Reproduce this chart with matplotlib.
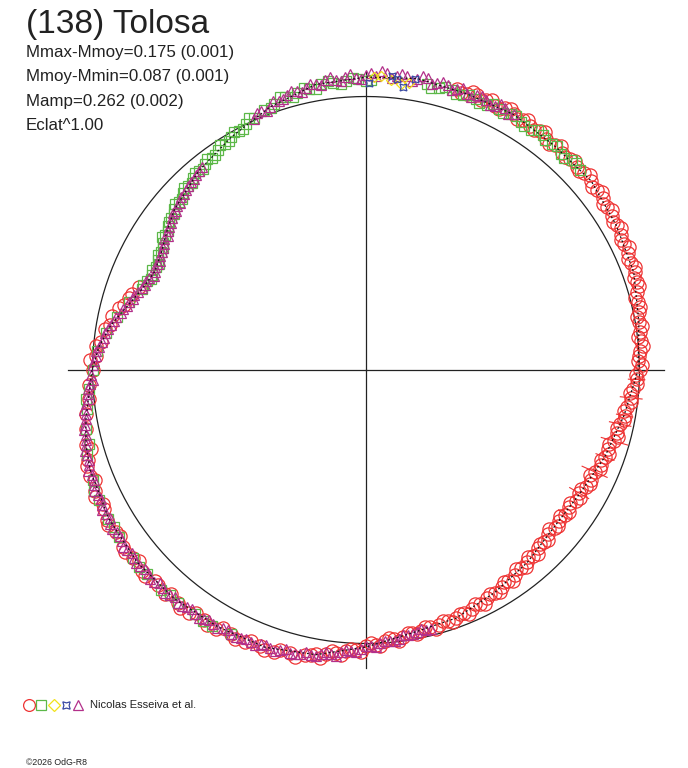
import numpy as np
import matplotlib.pyplot as plt
from matplotlib.lines import Line2D

plt.rcParams['font.family'] = ['Liberation Sans', 'DejaVu Sans']

# --- courbe ajustee (angle en degres, rayon relatif au cercle de reference) ---
fit_ang = [-180, -170, -165, -160, -150, -140, -130, -120, -110, -100, -90, -80, -70, -60,
           -50, -40, -30, -20, -10, 0, 10, 20, 30, 40, 50, 60, 70, 80, 90, 100, 110,
           120, 130, 140, 145, 150, 155, 160, 165, 170, 175, 180]
fit_r = [1.002, 1.040, 1.060, 1.073, 1.086, 1.093, 1.091, 1.084, 1.079, 1.057, 1.013, 0.976,
         0.965, 0.940, 0.918, 0.896, 0.903, 0.929, 0.958, 0.995, 1.013, 1.042, 1.057, 1.075,
         1.071, 1.079, 1.075, 1.082, 1.071, 1.060, 1.024, 0.984, 0.951, 0.914, 0.888, 0.863,
         0.852, 0.870, 0.903, 0.947, 0.980, 1.002]

# --- observations ---
red_ang = [160, 163, 166, 168, 171, 174, 177, 180, -177, -174, -171, -168, -165, -162, -159,
           -156, -153, -150, -147, -144, -141, -138, -135, -132, -129, -126, -123, -120, -117,
           -114, -111, -108, -105, -102,
           -100, -98, -96, -94, -92, -90, -88, -86, -84, -82, -80, -78, -76, -74, -72, -70,
           -68, -66, -64, -62, -60, -58, -56, -54, -52, -50, -48, -46, -44, -42, -40, -38,
           -36, -34, -32, -30, -28, -26, -24, -22, -20, -18, -16, -14, -12, -10, -8, -6, -4,
           -2, 0, 2, 4, 6, 8, 10, 12, 14, 16, 18, 20, 22, 24, 26, 28, 30, 32, 34, 36, 38, 40,
           42, 44, 46, 48, 50, 52, 54, 56, 58, 60, 62, 64, 66, 68, 70, 72]
red_r = [0.885, 0.905, 0.93, 0.95, 0.965, 0.975, 0.99, 1.0, 1.015, 1.02, 1.035, 1.045, 1.06,
         1.07, 1.08, 1.085, 1.08, 1.095, 1.09, 1.1, 1.095, 1.1, 1.09, 1.1, 1.095, 1.1, 1.09,
         1.095, 1.085, 1.09, 1.08, 1.085, 1.07, 1.065,
         1.055, 1.05, 1.04, 1.03, 1.025, 1.01, 1.005, 0.995, 0.99, 0.985, 0.975, 0.975, 0.97,
         0.97, 0.965, 0.965, 0.96, 0.955, 0.95, 0.945, 0.94, 0.935, 0.93, 0.925, 0.92, 0.915,
         0.915, 0.905, 0.905, 0.895, 0.9, 0.895, 0.9, 0.895, 0.905, 0.9, 0.91, 0.915, 0.915,
         0.925, 0.93, 0.93, 0.945, 0.945, 0.95, 0.96, 0.965, 0.975, 0.98, 0.99, 1.0, 0.995,
         1.005, 1.01, 1.01, 1.015, 1.02, 1.025, 1.03, 1.04, 1.045, 1.045, 1.05, 1.05, 1.055,
         1.06, 1.06, 1.065, 1.07, 1.07, 1.075, 1.075, 1.07, 1.075, 1.07, 1.075, 1.07, 1.08,
         1.075, 1.08, 1.08, 1.085, 1.075, 1.08, 1.085, 1.075, 1.08]
red_ang2 = [162, 165, 170, 175, 178, -164, -161, -158, -155, -152, -149, -146, -143, -140,
            -137, -134, -131, -128, -125, -122, -119, -116, -113, -110, -107, -104, -101,
            -99, -97, -95, -93, -91, -89, -87, -85, -83, -81, -79, -77, -75, -73, -71, -69,
            -67, -65, -63, -61, -59, -57, -55, -53, -51, -49, -47, -45, -43, -41, -39, -37,
            -35, -33, -31, -29, -27, -25, -23, -21, -19, -17, -15, -13, -11, -9, -7, -5, -3,
            -1, 1, 3, 5, 7, 9, 11, 13, 15, 17, 19, 21, 23, 25, 27, 29, 31, 33, 35, 37, 39,
            41, 43, 45, 47, 49, 51, 53, 55, 57, 59, 61, 63, 65, 67, 69, 71]
red_r2 = [0.9, 0.915, 0.95, 0.99, 1.01, 1.045, 1.08, 1.07, 1.095, 1.085, 1.1, 1.085, 1.105,
          1.085, 1.105, 1.095, 1.085, 1.105, 1.085, 1.1, 1.08, 1.095, 1.075, 1.09, 1.07,
          1.08, 1.06,
          1.065, 1.035, 1.045, 1.02, 1.03, 0.998, 1.012, 0.985, 0.998, 0.972, 0.985, 0.965,
          0.982, 0.96, 0.975, 0.955, 0.968, 0.945, 0.96, 0.935, 0.948, 0.925, 0.94, 0.912,
          0.928, 0.905, 0.922, 0.898, 0.912, 0.888, 0.905, 0.89, 0.908, 0.89, 0.912, 0.898,
          0.92, 0.905, 0.93, 0.92, 0.94, 0.928, 0.952, 0.94, 0.962, 0.955, 0.975, 0.968,
          0.992, 0.988, 1.008, 0.998, 1.015, 1.002, 1.022, 1.01, 1.03, 1.02, 1.045, 1.035,
          1.055, 1.04, 1.06, 1.045, 1.068, 1.052, 1.072, 1.06, 1.08, 1.065, 1.085, 1.065,
          1.082, 1.065, 1.085, 1.065, 1.088, 1.07, 1.088, 1.072, 1.09, 1.07, 1.088, 1.072,
          1.09, 1.07]

# barres d'erreur (quelques points rouges)
err_ang = [-36, -30, -24, -20, -16, -12, -10, -6, -2]
err_r = [0.9, 0.9, 0.915, 0.93, 0.945, 0.95, 0.96, 0.975, 0.99]
err_size = [0.03, 0.04, 0.05, 0.035, 0.05, 0.04, 0.03, 0.04, 0.03]

green_ang = [43, 45.5, 48, 50.5, 53, 55.5, 58, 60.5, 63, 65.5, 68, 70.5, 73, 75.5, 78, 89,
             91.5, 94, 96.5, 99, 101.5, 104, 106.5, 109, 111.5,
             114, 116, 118, 120, 122, 124, 126, 128, 130, 132, 134, 136, 138, 140, 142, 144,
             146, 148, 150, 152, 154, 156, 158, 160, 164, 168, 172, 176, 180,
             -176, -172, -168, -163, -158, -154, -150, -146, -141, -137, -133, -129, -125,
             -121, -117]
green_r = [1.07, 1.075, 1.065, 1.07, 1.075, 1.065, 1.07, 1.075, 1.07, 1.065, 1.07, 1.065,
           1.07, 1.065, 1.07, 1.06, 1.065, 1.06, 1.055, 1.06, 1.05, 1.045, 1.04, 1.03, 1.02,
           1.01, 1.0, 0.99, 0.985, 0.975, 0.97, 0.96, 0.955, 0.95, 0.945, 0.935, 0.93, 0.92,
           0.915, 0.905, 0.895, 0.885, 0.875, 0.865, 0.86, 0.855, 0.855, 0.865, 0.87, 0.9,
           0.93, 0.96, 0.985, 1.0,
           1.015, 1.03, 1.045, 1.065, 1.075, 1.085, 1.09, 1.09, 1.095, 1.095, 1.1, 1.095,
           1.09, 1.09, 1.085]
green_ang2 = [44.5, 47, 49.5, 52, 54.5, 57, 59.5, 62, 64.5, 67, 69.5, 72, 74.5, 77, 90, 92.5,
              95, 97.5, 100, 102.5, 105, 107.5, 110,
              115, 117, 119, 121, 123, 125, 127, 129, 131, 133, 135, 137, 139, 141, 143, 145,
              147, 149, 151, 153, 155, 157, 159,
              -174, -165, -156, -148, -139, -131, -123]
green_r2 = [1.078, 1.062, 1.078, 1.065, 1.08, 1.062, 1.078, 1.065, 1.078, 1.06, 1.075, 1.06,
            1.075, 1.06, 1.055, 1.07, 1.05, 1.065, 1.045, 1.055, 1.035, 1.045, 1.02,
            1.015, 0.99, 0.995, 0.975, 0.98, 0.96, 0.965, 0.948, 0.955, 0.935, 0.94, 0.918,
            0.925, 0.905, 0.9, 0.885, 0.89, 0.868, 0.87, 0.85, 0.862, 0.855, 0.872,
            1.03, 1.05, 1.09, 1.085, 1.1, 1.09, 1.095]

purple_ang = [60, 62, 64, 66, 68, 70, 72, 74, 76, 78, 80, 82, 84, 86, 88, 90, 92, 94, 96,
              98, 100, 102, 104, 106, 108, 110, 112, 114,
              129, 131, 133, 135, 137, 139, 141, 143, 145, 147, 149, 151, 153, 155, 157, 159,
              161, 163, 165, 167, 169, 171, 173, 175, 177, 179,
              -179, -177, -175, -173, -171, -169, -167, -165, -163, -161, -159, -157, -155,
              -153, -151, -149, -147, -145, -143, -141, -139, -137, -135, -133, -131, -129,
              -127, -125, -123, -121, -119, -117, -115, -113, -111, -109, -107, -105, -103,
              -101, -99, -97, -95, -93, -91, -89, -87, -85, -83, -81, -79, -77]
purple_r = [1.08, 1.085, 1.075, 1.08, 1.085, 1.075, 1.08, 1.085, 1.08, 1.09, 1.08, 1.085,
            1.08, 1.09, 1.075, 1.08, 1.07, 1.075, 1.065, 1.07, 1.06, 1.055, 1.05, 1.045,
            1.035, 1.025, 1.02, 1.005,
            0.955, 0.945, 0.94, 0.93, 0.925, 0.915, 0.91, 0.895, 0.885, 0.88, 0.865, 0.86,
            0.855, 0.85, 0.86, 0.865, 0.88, 0.89, 0.905, 0.92, 0.94, 0.955, 0.965, 0.98,
            0.99, 1.0,
            1.005, 1.01, 1.02, 1.03, 1.035, 1.045, 1.05, 1.06, 1.065, 1.07, 1.075, 1.08,
            1.08, 1.085, 1.085, 1.09, 1.085, 1.09, 1.095, 1.09, 1.095, 1.09, 1.095, 1.09,
            1.09, 1.095, 1.085, 1.09, 1.085, 1.085, 1.08, 1.085, 1.08, 1.08, 1.075, 1.075,
            1.07, 1.07, 1.065, 1.06, 1.05, 1.045, 1.035, 1.03, 1.02, 1.01, 1.0, 0.995, 0.99,
            0.98, 0.975, 0.975]
purple_ang2 = [61, 63, 65, 67, 69, 71, 73, 75, 77, 79, 81, 83, 85, 87, 89, 91, 93, 95, 97,
               99, 101, 103, 105, 107, 109, 111, 113,
               130, 132, 134, 136, 138, 140, 142, 144, 146, 148, 150, 152, 154, 156, 158,
               160, 162, 164, 166, 168, 170, 172, 174, 176, 178,
               -178, -176, -174, -172, -170, -168, -166, -164, -162, -160, -158, -156, -154,
               -152, -150, -148, -146, -144, -142, -140, -138, -136, -134, -132, -130, -128,
               -126, -124, -122, -120, -118, -116, -114, -112, -110, -108, -106, -104, -102,
               -100, -98, -96, -94, -92, -90, -88, -86, -84, -82, -80, -78, -76]
purple_r2 = [1.07, 1.09, 1.07, 1.09, 1.07, 1.09, 1.072, 1.092, 1.072, 1.095, 1.07, 1.092,
             1.07, 1.095, 1.085, 1.065, 1.085, 1.062, 1.078, 1.055, 1.065, 1.045, 1.055,
             1.035, 1.04, 1.015, 1.02,
             0.95, 0.94, 0.935, 0.925, 0.915, 0.905, 0.9, 0.89, 0.875, 0.872, 0.86, 0.852,
             0.858, 0.848, 0.868, 0.872, 0.89, 0.9, 0.915, 0.935, 0.945, 0.965, 0.97, 0.99,
             0.995,
             1.0, 1.018, 1.022, 1.04, 1.04, 1.055, 1.055, 1.068, 1.066, 1.08, 1.072, 1.088,
             1.078, 1.092, 1.082, 1.095, 1.085, 1.1, 1.088, 1.1, 1.088, 1.1, 1.085, 1.098,
             1.085, 1.095, 1.082, 1.092, 1.08, 1.09, 1.078, 1.088, 1.075, 1.085, 1.07, 1.08,
             1.062, 1.072, 1.055, 1.062, 1.04, 1.05, 1.025, 1.032, 1.008, 1.012, 0.992, 0.998,
             0.978, 0.982, 0.968, 0.975]

yellow_ang = [88.5, 87, 85, 83, 81.5]
yellow_r = [1.07, 1.075, 1.065, 1.055, 1.06]

blue_ang = [89.5, 85, 84, 82.5, 80.5]
blue_r = [1.05, 1.08, 1.07, 1.045, 1.08]

title = "(138) Tolosa"
info_lines = ["Mmax-Mmoy=0.175 (0.001)", "Mmoy-Mmin=0.087 (0.001)",
              "Mamp=0.262 (0.002)", "Eclat^1.00"]
author = "Nicolas Esseiva et al."
copyright_txt = "\u00a92026 OdG-R8"

c_red, c_green, c_yellow = "#ee3333", "#5cb848", "#f2e21a"
c_blue, c_purple = "#3b4ba3", "#b3308a"

W, H = 688, 768
fig = plt.figure(figsize=(W / 100, H / 100), dpi=100)
rmax = 1.15
R = 273.5 * rmax
cx, cy = 366, 370
ax = fig.add_axes([(cx - R) / W, (H - cy - R) / H, 2 * R / W, 2 * R / H], projection="polar")
ax.set_rlim(0, rmax)
ax.grid(False)
ax.set_xticks([])
ax.set_yticks([])
ax.spines["polar"].set_visible(False)
ax.patch.set_alpha(0)

# axes en croix
for t in (0, np.pi / 2, np.pi, 3 * np.pi / 2):
    ax.plot([t, t], [0, 1.09], color="#222222", lw=0.9, zorder=1)

# cercle de reference
th = np.linspace(0, 2 * np.pi, 361)
ax.plot(th, np.ones_like(th), color="#222222", lw=0.9, zorder=1)

mk = dict(ls="none", mfc="none", mew=0.9, clip_on=False)
ax.plot(np.radians(red_ang + red_ang2), red_r + red_r2, marker="o", ms=9.5, mec=c_red,
        zorder=2, **mk)
for a, r, e in zip(err_ang, err_r, err_size):
    ax.plot([np.radians(a)] * 2, [r - e, r + e], color=c_red, lw=0.8, zorder=2)
ax.plot(np.radians(green_ang + green_ang2), green_r + green_r2, marker="s", ms=7,
        mec=c_green, zorder=3, **mk)
ax.plot(np.radians(purple_ang + purple_ang2), purple_r + purple_r2, marker="^", ms=7.5,
        mec=c_purple, zorder=4, **mk)
ax.plot(np.radians(yellow_ang), yellow_r, marker="D", ms=5.5, mec=c_yellow, zorder=5, **mk)
ax.plot(np.radians(blue_ang), blue_r, marker=(4, 1, 45), ms=7, mec=c_blue, zorder=6, **mk)

# courbe ajustee
ax.plot(np.radians(fit_ang), fit_r, color="#111111", lw=0.9, ls=(0, (1.5, 2)), zorder=7)

# textes
fig.text(26 / W, 1 - 33 / H, title, fontsize=24, color="#222222", va="baseline")
for i, line in enumerate(info_lines):
    fig.text(26 / W, 1 - (57 + 24.5 * i) / H, line, fontsize=12.2, color="#222222",
             va="baseline")

# legende
leg = [("o", c_red, 8.5), ("s", c_green, 7), ("D", c_yellow, 6.5), ((4, 1, 45), c_blue, 7.5),
       ("^", c_purple, 7.5)]
for i, (m, c, s) in enumerate(leg):
    fig.add_artist(Line2D([(29 + 12.3 * i) / W], [1 - 705 / H], marker=m, ms=s, mec=c,
                          mfc="none", mew=0.9, ls="none", transform=fig.transFigure))
fig.text(90 / W, 1 - 708.5 / H, author, fontsize=8, color="#222222", va="baseline")
fig.text(26 / W, 1 - 765 / H, copyright_txt, fontsize=6.3, color="#222222", va="baseline")

fig.savefig("out.png", dpi=100)
